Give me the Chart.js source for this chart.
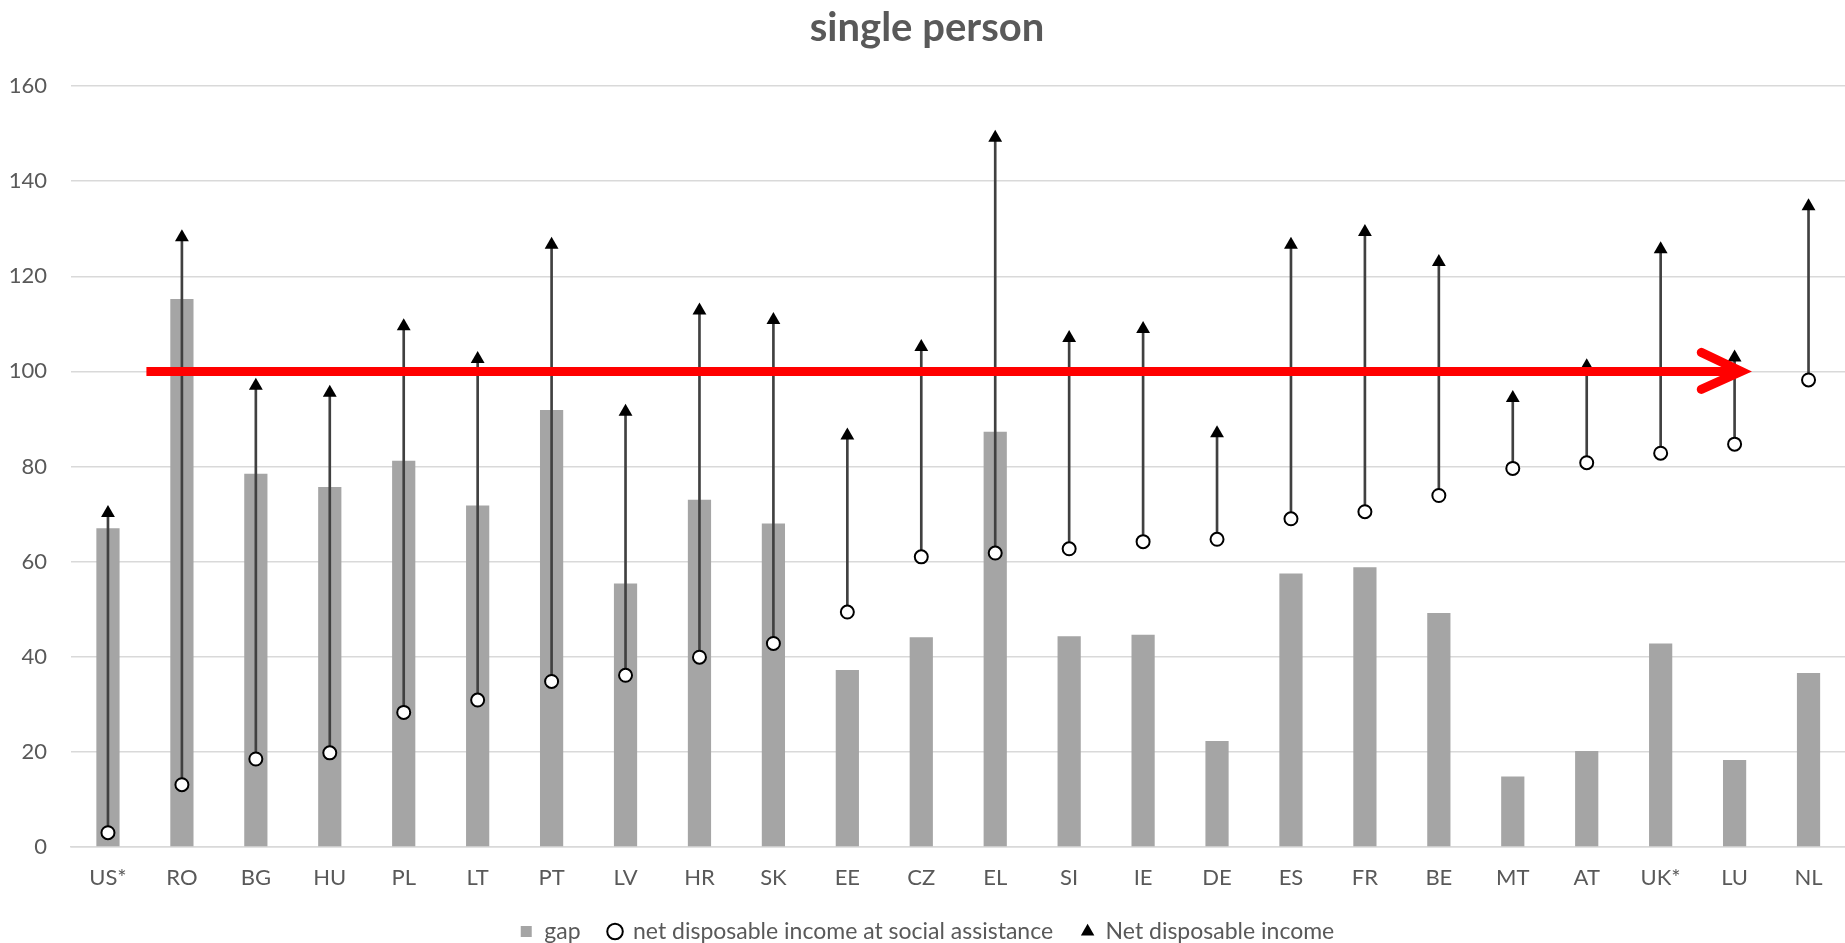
<!DOCTYPE html>
<html>
<head>
<meta charset="utf-8">
<title>single person</title>
<script src="https://cdn.jsdelivr.net/npm/chart.js@4.4.1/dist/chart.umd.min.js"></script>
<style>
    html, body { margin: 0; padding: 0; background: #fff; overflow: hidden; }
    #wrap { width: 1854px; height: 943px; }
</style>
</head>
<body>
<div id="wrap">
    <canvas id="singleChart" width="1854" height="943"></canvas>
</div>
<script>
// data
const countries = ['US*', 'RO', 'BG', 'HU', 'PL', 'LT', 'PT', 'LV', 'HR', 'SK', 'EE', 'CZ',
    'EL', 'SI', 'IE', 'DE', 'ES', 'FR', 'BE', 'MT', 'AT', 'UK*', 'LU', 'NL'];
const gapValues = [67.0, 115.2, 78.5, 75.7, 81.2, 71.8, 91.9, 55.4, 73.0, 68.0, 37.2, 44.1,
    87.3, 44.3, 44.6, 22.3, 57.5, 58.8, 49.2, 14.8, 20.2, 42.8, 18.3, 36.6];
const saIncome = [3.0, 13.1, 18.5, 19.8, 28.3, 30.9, 34.8, 36.1, 39.9, 42.8, 49.4, 61.0,
    61.8, 62.7, 64.2, 64.7, 69.0, 70.5, 73.9, 79.6, 80.8, 82.8, 84.7, 98.2];
const netIncome = [70.2, 128.2, 97.0, 95.5, 109.5, 102.6, 126.6, 91.5, 112.8, 110.8, 86.5, 105.1,
    149.1, 107.0, 108.9, 87.0, 126.6, 129.3, 123.0, 94.4, 101.1, 125.7, 102.9, 134.7];
const yMin = 0;
const yMax = 160;
const yStep = 20;

// red benchmark arrow (value, and from/to in category positions)
const benchmark = 100;
const arrowFrom = 0.52;
const arrowTo = 22.09;

const FONT = "Lato, Carlito, Calibri, 'Open Sans', sans-serif";
const GREY_TEXT = '#595959';

const benchmarkArrow = {
    id: 'benchmarkArrow',
    afterDatasetsDraw(chart) {
        const ctx = chart.ctx;
        const x = chart.scales.x;
        const y = chart.scales.y;
        const yy = y.getPixelForValue(benchmark);
        const x0 = x.getPixelForValue(arrowFrom);
        const x1 = x.getPixelForValue(arrowTo);
        ctx.save();
        ctx.strokeStyle = '#FF0000';
        ctx.lineWidth = 9;
        ctx.lineCap = 'butt';
        ctx.beginPath();
        ctx.moveTo(x0, yy);
        ctx.lineTo(x1 - 4, yy);
        ctx.stroke();
        // open arrow head
        ctx.lineCap = 'round';
        ctx.lineJoin = 'miter';
        ctx.beginPath();
        ctx.moveTo(x1 - 40, yy - 19);
        ctx.lineTo(x1, yy);
        ctx.lineTo(x1 - 40, yy + 18);
        ctx.stroke();
        ctx.restore();
    }
};

document.addEventListener('DOMContentLoaded', function() {
    renderChart();
});

function renderChart() {
    const ctx = document.getElementById('singleChart').getContext('2d');
    const spans = saIncome.map((v, i) => [v, netIncome[i]]);

    new Chart(ctx, {
        type: 'bar',
        data: {
            labels: countries,
            datasets: [{
                    label: 'gap',
                    data: gapValues,
                    backgroundColor: '#A5A5A5',
                    grouped: false,
                    categoryPercentage: 1,
                    barPercentage: 0.314,
                    order: 4,
                    legendStyle: 'rect',
                    legendFill: '#A5A5A5',
                    legendStroke: '#A5A5A5',
                    legendLine: 0
                },
                {
                    type: 'line',
                    label: 'net disposable income at social assistance',
                    data: saIncome,
                    showLine: false,
                    pointStyle: 'circle',
                    pointRadius: 6.5,
                    pointBorderWidth: 2,
                    pointBackgroundColor: '#FFFFFF',
                    pointBorderColor: '#000000',
                    order: 2,
                    legendStyle: 'circle',
                    legendFill: '#FFFFFF',
                    legendStroke: '#000000',
                    legendLine: 2
                },
                {
                    type: 'line',
                    label: 'Net disposable income',
                    data: netIncome,
                    showLine: false,
                    pointStyle: 'triangle',
                    pointRadius: 8,
                    pointBorderWidth: 0,
                    pointBackgroundColor: '#000000',
                    pointBorderColor: '#000000',
                    order: 1,
                    legendStyle: 'triangle',
                    legendFill: '#000000',
                    legendStroke: '#000000',
                    legendLine: 0
                },
                {
                    // connector from assistance level up to net income
                    label: '',
                    data: spans,
                    backgroundColor: '#404040',
                    grouped: false,
                    barThickness: 2,
                    order: 3
                }
            ]
        },
        options: {
            responsive: false,
            maintainAspectRatio: false,
            animation: false,
            layout: {
                padding: { left: 0, right: 0, top: 0, bottom: -10 }
            },
            plugins: {
                title: {
                    display: true,
                    text: 'single person',
                    color: GREY_TEXT,
                    font: { family: FONT, size: 40, weight: 'bold' },
                    padding: { top: 4, bottom: 34 }
                },
                legend: {
                    position: 'bottom',
                    labels: {
                        usePointStyle: true,
                        boxWidth: 13,
                        boxHeight: 11,
                        padding: 28,
                        color: GREY_TEXT,
                        font: { family: FONT, size: 23 },
                        generateLabels: function(chart) {
                            return chart.data.datasets.map((ds, i) => ({
                                text: ds.label,
                                fillStyle: ds.legendFill,
                                strokeStyle: ds.legendStroke,
                                lineWidth: ds.legendLine,
                                pointStyle: ds.legendStyle,
                                fontColor: GREY_TEXT,
                                hidden: false,
                                datasetIndex: i
                            })).filter(item => item.text);
                        }
                    }
                },
                tooltip: { enabled: false }
            },
            scales: {
                x: {
                    grid: { display: false, drawTicks: false },
                    border: { color: '#D9D9D9', width: 1.5 },
                    ticks: {
                        color: GREY_TEXT,
                        padding: 18,
                        maxRotation: 0,
                        autoSkip: false,
                        font: { family: FONT, size: 22 }
                    },
                    afterFit: function(scale) {
                        scale.height = 45;
                    }
                },
                y: {
                    min: yMin,
                    max: yMax,
                    grid: { color: '#D9D9D9', lineWidth: 1.5, drawTicks: false },
                    border: { display: false },
                    ticks: {
                        stepSize: yStep,
                        color: GREY_TEXT,
                        padding: 24,
                        font: { family: FONT, size: 22 }
                    },
                    afterFit: function(scale) {
                        scale.width = 71;
                    }
                }
            }
        },
        plugins: [benchmarkArrow]
    });
}
</script>
</body>
</html>
